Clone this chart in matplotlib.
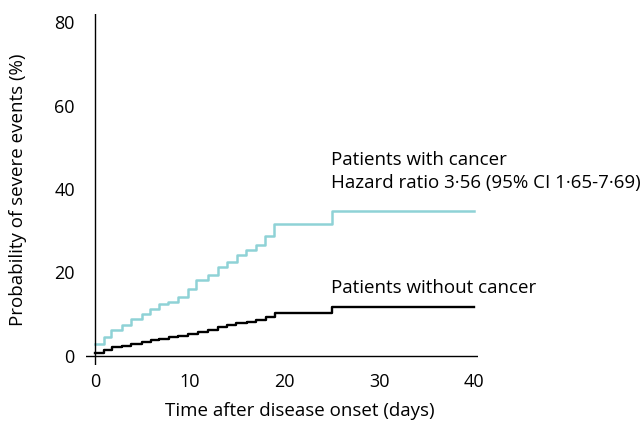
import matplotlib
matplotlib.use("Agg")
from matplotlib import pyplot as plt

plt.rcParams['font.family'] = ['Open Sans', 'DejaVu Sans']

# step curves (days, %)
dias_cancer = [0, 0.9, 1.7, 2.8, 3.8, 5.0, 5.8, 6.8, 7.7, 8.8, 9.8, 10.7, 11.9,
               13.0, 13.9, 15.0, 15.9, 17.0, 17.9, 18.9, 25.0, 40]
prob_cancer = [2.8, 4.6, 6.1, 7.3, 8.8, 10.0, 11.2, 12.4, 12.9, 14.1, 16.0, 18.2, 19.5,
               21.3, 22.5, 24.3, 25.4, 26.6, 28.8, 31.6, 34.8, 34.8]

dias_sin = [0, 0.9, 1.8, 2.8, 3.8, 5.0, 5.9, 6.8, 7.8, 8.8, 9.8, 10.9, 11.9,
            13.0, 13.9, 14.9, 16.0, 17.0, 18.0, 19.0, 25.0, 40]
prob_sin = [0.6, 1.4, 2.0, 2.4, 2.9, 3.3, 3.7, 4.1, 4.4, 4.7, 5.2, 5.8, 6.2,
            6.8, 7.4, 7.8, 8.2, 8.6, 9.2, 10.2, 11.6, 11.6]

xticks = [0, 10, 20, 30, 40]
yticks = [0, 20, 40, 60, 80]

fig = plt.figure(figsize=(6.43, 4.24), dpi=100)
ax = fig.add_axes([0.1337, 0.1392, 0.6096, 0.8278])

ax.step(dias_cancer, prob_cancer, where='post', color='#8fd2d6', lw=1.8)
ax.step(dias_sin, prob_sin, where='post', color='black', lw=1.7)

ax.axhline(0, color='black', lw=1)
ax.axvline(0, color='black', lw=1)
for s in ax.spines.values():
    s.set_visible(False)

ax.set_xlim(-0.95, 40.4)
ax.set_ylim(-2.2, 82)
ax.set_xticks(xticks)
ax.set_yticks(yticks)
ax.tick_params(length=0, labelsize=13)
ax.tick_params(axis='x', pad=6)
ax.tick_params(axis='y', pad=8)

ax.set_xlabel('Time after disease onset (days)', fontsize=13.5)
ax.set_ylabel('Probability of severe events (%)', fontsize=13.5)
ax.xaxis.set_label_coords(0.546, -0.105)
ax.yaxis.set_label_coords(-0.15, 0.5)

ax.text(24.9, 47, 'Patients with cancer', fontsize=13.5, va='center', clip_on=False)
ax.text(24.9, 41.5, 'Hazard ratio 3·56 (95% CI 1·65-7·69)', fontsize=13.5, va='center', clip_on=False)
ax.text(24.9, 16.3, 'Patients without cancer', fontsize=13.5, va='center', clip_on=False)

fig.savefig('out.png', dpi=100)
